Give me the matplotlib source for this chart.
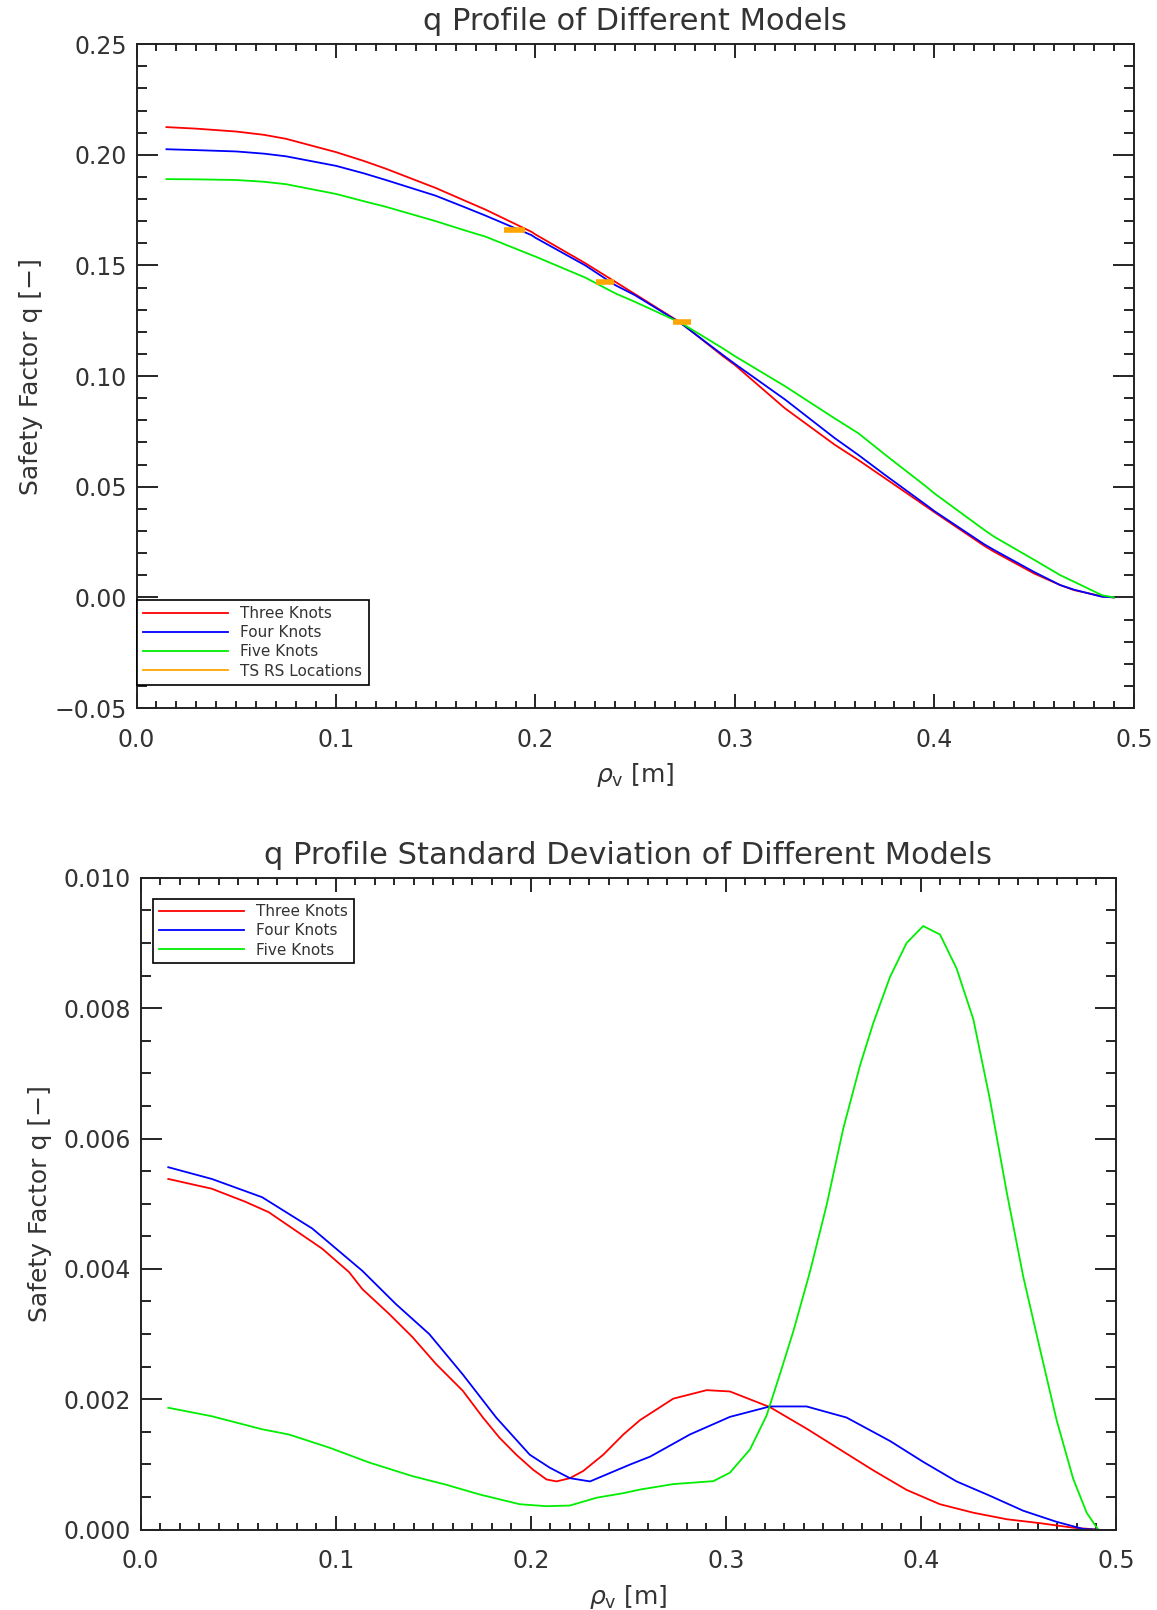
import matplotlib
matplotlib.use('Agg')
import matplotlib.pyplot as plt
from matplotlib.ticker import MultipleLocator, FuncFormatter

# ---- top panel: q profiles
rho_q = [0.015, 0.03, 0.05, 0.064, 0.075, 0.1, 0.114, 0.125, 0.15, 0.164, 0.175, 0.198,
         0.2, 0.225, 0.24, 0.25, 0.273, 0.294, 0.3, 0.325, 0.35, 0.362, 0.375, 0.396,
         0.4, 0.425, 0.43, 0.45, 0.463, 0.47, 0.484, 0.49]
q_three = [0.2125, 0.2118, 0.2105, 0.2090, 0.2072, 0.2012, 0.1972, 0.1937, 0.1850, 0.1795, 0.1752, 0.1652,
           0.1640, 0.1510, 0.1426, 0.1370, 0.1240, 0.1090, 0.1050, 0.0855, 0.0690, 0.0620, 0.0540, 0.0410,
           0.0385, 0.0233, 0.0206, 0.0108, 0.0056, 0.0033, 0.0005, 0.0]
q_four = [0.2025, 0.2021, 0.2015, 0.2005, 0.1993, 0.1950, 0.1916, 0.1886, 0.1815, 0.1765, 0.1725, 0.1637,
          0.1625, 0.1500, 0.1411, 0.1365, 0.1238, 0.1095, 0.1055, 0.0895, 0.0720, 0.0643, 0.0555, 0.0417,
          0.0390, 0.0240, 0.0214, 0.0115, 0.0056, 0.0035, 0.0003, 0.0]
q_five = [0.1890, 0.1889, 0.1886, 0.1878, 0.1867, 0.1823, 0.1790, 0.1765, 0.1700, 0.1660, 0.1630, 0.1547,
          0.1540, 0.1445, 0.1374, 0.1335, 0.1240, 0.1125, 0.1090, 0.0955, 0.0809, 0.0741, 0.0647, 0.0500,
          0.0470, 0.0305, 0.0274, 0.0170, 0.0101, 0.0071, 0.0010, 0.0]

# TS RS locations
ts_rho = [0.1895, 0.2347, 0.2733]
ts_q = [0.1660, 0.1423, 0.1243]
ts_halfwidth = [0.0055, 0.0045, 0.0045]

# ---- bottom panel: standard deviations
rho_sd_three = [0.0142, 0.0365, 0.0537, 0.0657, 0.0794, 0.0931, 0.1069, 0.1137, 0.1274, 0.1395, 0.1515,
                0.1652, 0.1755, 0.1840, 0.1926, 0.2012, 0.2081, 0.2132, 0.2201, 0.2269, 0.2372, 0.2475,
                0.2560, 0.2731, 0.2902, 0.3021, 0.3226, 0.3414, 0.3585, 0.3756, 0.3927, 0.4098, 0.4269,
                0.4440, 0.4610, 0.4781, 0.4909]
sd_three = [0.00538, 0.00523, 0.00503, 0.00487, 0.00459, 0.00431, 0.00395, 0.00369, 0.00331, 0.00295, 0.00254,
            0.00213, 0.00172, 0.00141, 0.00115, 0.00092, 0.00077, 0.00074, 0.00079, 0.00090, 0.00115, 0.00146,
            0.00168, 0.00201, 0.00214, 0.00212, 0.00188, 0.00155, 0.00123, 0.00091, 0.00061, 0.00039, 0.00026,
            0.00016, 0.00010, 0.00003, 0.0]

rho_sd_four = [0.0142, 0.0365, 0.0623, 0.0880, 0.1137, 0.1309, 0.1480, 0.1652, 0.1823, 0.1995, 0.2098,
               0.2201, 0.2304, 0.2407, 0.2510, 0.2612, 0.2816, 0.3021, 0.3226, 0.3414, 0.3619, 0.3842,
               0.4012, 0.4183, 0.4354, 0.4525, 0.4696, 0.4833, 0.4909]
sd_four = [0.00556, 0.00538, 0.00510, 0.00462, 0.00397, 0.00346, 0.00300, 0.00238, 0.00172, 0.00115, 0.00095,
           0.00079, 0.00074, 0.00087, 0.00100, 0.00112, 0.00146, 0.00173, 0.00189, 0.00189, 0.00172, 0.00136,
           0.00104, 0.00074, 0.00052, 0.00029, 0.00012, 0.00001, 0.0]

rho_sd_five = [0.0142, 0.0365, 0.0623, 0.0760, 0.0966, 0.1172, 0.1395, 0.1566, 0.1738, 0.1944, 0.2081,
               0.2201, 0.2338, 0.2475, 0.2560, 0.2731, 0.2936, 0.3021, 0.3124, 0.3209, 0.3278, 0.3346,
               0.3431, 0.3517, 0.3602, 0.3688, 0.3756, 0.3842, 0.3927, 0.4012, 0.4098, 0.4183, 0.4269,
               0.4354, 0.4440, 0.4525, 0.4610, 0.4696, 0.4781, 0.4850, 0.4909]
sd_five = [0.00187, 0.00174, 0.00154, 0.00146, 0.00126, 0.00103, 0.00082, 0.00069, 0.00054, 0.00039, 0.00036,
           0.00037, 0.00049, 0.00056, 0.000615, 0.000699, 0.000744, 0.000874, 0.00123, 0.00175, 0.00239, 0.00304,
           0.00395, 0.00498, 0.00615, 0.00712, 0.00777, 0.00848, 0.00900, 0.00926, 0.00913, 0.00861, 0.00783,
           0.00660, 0.00518, 0.00388, 0.00278, 0.00168, 0.00078, 0.00026, 0.0]

RED, BLUE, GREEN, ORANGE = '#ff0000', '#0000ff', '#00ee00', '#ffa500'
TXT = '#333333'

plt.rcParams['font.family'] = ['DejaVu Sans']
plt.rcParams['mathtext.fontset'] = 'dejavusans'

fig = plt.figure(figsize=(11.57, 16.10), dpi=100)
ax1 = fig.add_axes([0.118, 0.5602, 0.862, 0.4124])
ax2 = fig.add_axes([0.1215, 0.0499, 0.843, 0.4049])


def fmt_with_minus(decimals):
    return FuncFormatter(lambda v, pos: f'{v:.{decimals}f}'.replace('-', '\u2212')
                         if abs(v) > 1e-12 else f'{0:.{decimals}f}')


def style_axes(ax, ymajor, yminor, ydec):
    ax.set_xlim(0.0, 0.5)
    ax.xaxis.set_major_locator(MultipleLocator(0.1))
    ax.xaxis.set_minor_locator(MultipleLocator(0.01))
    ax.yaxis.set_major_locator(MultipleLocator(ymajor))
    ax.yaxis.set_minor_locator(MultipleLocator(yminor))
    ax.xaxis.set_major_formatter(fmt_with_minus(1))
    ax.yaxis.set_major_formatter(fmt_with_minus(ydec))
    ax.tick_params(axis='both', which='both', direction='in', top=True, right=True,
                   colors='black', labelcolor=TXT, width=1.2)
    ax.tick_params(axis='x', which='major', length=10, pad=14, labelsize=17)
    ax.tick_params(axis='x', which='minor', length=5)
    ax.tick_params(axis='y', which='major', length=15, pad=7, labelsize=17)
    ax.tick_params(axis='y', which='minor', length=7.5)
    for s in ax.spines.values():
        s.set_linewidth(1.4)
        s.set_color('#222222')
    ax.set_xlabel(r'$\rho_{\rm v}$ [m]', fontsize=18, color=TXT, labelpad=7)
    ax.set_ylabel('Safety Factor q [\u2212]', fontsize=18, color=TXT, labelpad=8)


# top panel
ax1.plot(rho_q, q_three, color=RED, lw=1.3, label='Three Knots')
ax1.plot(rho_q, q_four, color=BLUE, lw=1.3, label='Four Knots')
ax1.plot(rho_q, q_five, color=GREEN, lw=1.3, label='Five Knots')
ax1.errorbar(ts_rho, ts_q, xerr=ts_halfwidth, fmt='none', ecolor=ORANGE, elinewidth=4,
             capsize=0, label='TS RS Locations', zorder=3)
ax1.set_ylim(-0.05, 0.25)
style_axes(ax1, 0.05, 0.01, 2)
ax1.set_title('q Profile of Different Models', fontsize=22, color=TXT, pad=10)

h, l = ax1.get_legend_handles_labels()
h[3] = plt.Line2D([], [], color=ORANGE, lw=1.3)
leg1 = ax1.legend(h, l, loc='lower left', bbox_to_anchor=(0.0, 0.035), fontsize=11,
                  frameon=True, fancybox=False, framealpha=1, edgecolor='black',
                  handlelength=5.6, handletextpad=0.8, borderpad=0.4, labelspacing=0.28,
                  borderaxespad=0.0)
leg1.get_frame().set_linewidth(1.2)
for t in leg1.get_texts():
    t.set_color(TXT)

# bottom panel
ax2.plot(rho_sd_three, sd_three, color=RED, lw=1.3, label='Three Knots')
ax2.plot(rho_sd_four, sd_four, color=BLUE, lw=1.3, label='Four Knots')
ax2.plot(rho_sd_five, sd_five, color=GREEN, lw=1.3, label='Five Knots')
ax2.set_ylim(0.0, 0.010)
style_axes(ax2, 0.002, 0.0005, 3)
ax2.set_title('q Profile Standard Deviation of Different Models', fontsize=22, color=TXT, pad=10)

leg2 = ax2.legend(loc='upper left', bbox_to_anchor=(0.013, 0.968), fontsize=11,
                  frameon=True, fancybox=False, framealpha=1, edgecolor='black',
                  handlelength=5.6, handletextpad=0.8, borderpad=0.35, labelspacing=0.28,
                  borderaxespad=0.0)
leg2.get_frame().set_linewidth(1.2)
for t in leg2.get_texts():
    t.set_color(TXT)

fig.savefig('out.png', dpi=100)
